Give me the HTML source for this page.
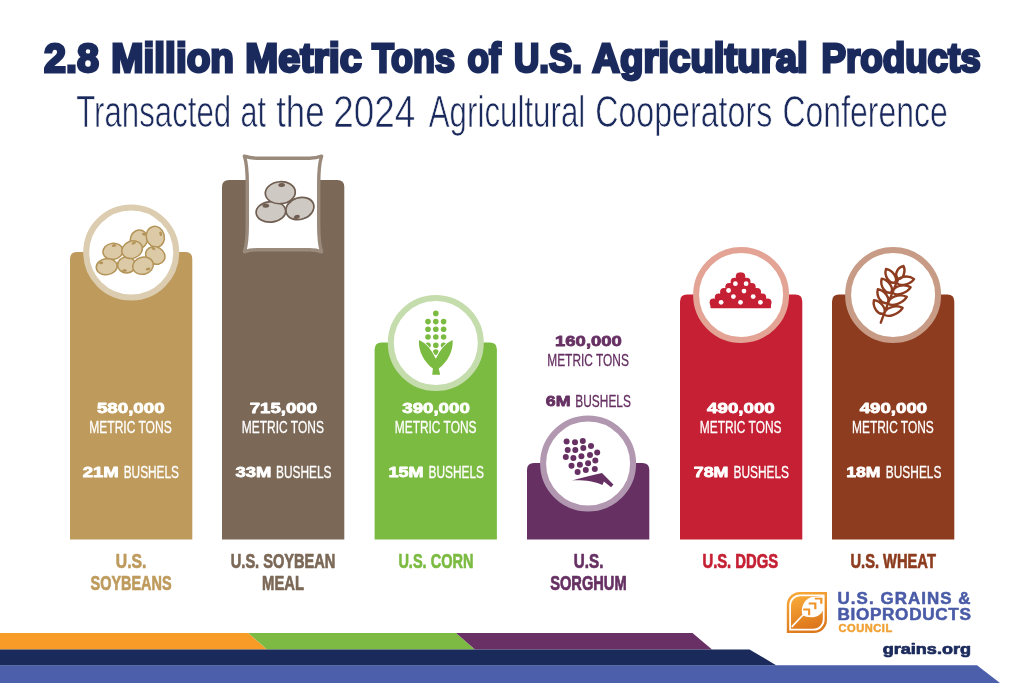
<!DOCTYPE html>
<html lang="en"><head><meta charset="utf-8"><title>2.8 Million Metric Tons of U.S. Agricultural Products</title>
<style>
html,body{margin:0;padding:0;background:#fff;}
body{width:1024px;height:683px;overflow:hidden;}
svg{display:block;font-family:"Liberation Sans",sans-serif;}
</style></head><body>
<svg width="1024" height="683" viewBox="0 0 1024 683">
<rect width="1024" height="683" fill="#fff"/>
<text transform="translate(43.99,72.40) scale(0.9762,1)" font-size="40.41" fill="#1b2a5c" font-weight="bold" stroke="#1b2a5c" stroke-width="2.8" stroke-linejoin="miter">2.8</text>
<text transform="translate(111.32,72.40) scale(0.9591,1)" font-size="40.41" fill="#1b2a5c" font-weight="bold" stroke="#1b2a5c" stroke-width="2.8" stroke-linejoin="miter">Million</text>
<text transform="translate(245.30,72.40) scale(0.9791,1)" font-size="40.41" fill="#1b2a5c" font-weight="bold" stroke="#1b2a5c" stroke-width="2.8" stroke-linejoin="miter">Metric</text>
<text transform="translate(371.88,72.40) scale(0.8874,1)" font-size="40.41" fill="#1b2a5c" font-weight="bold" stroke="#1b2a5c" stroke-width="2.8" stroke-linejoin="miter">Tons</text>
<text transform="translate(467.61,72.40) scale(0.8687,1)" font-size="40.41" fill="#1b2a5c" font-weight="bold" stroke="#1b2a5c" stroke-width="2.8" stroke-linejoin="miter">of</text>
<text transform="translate(513.91,72.40) scale(0.8668,1)" font-size="40.41" fill="#1b2a5c" font-weight="bold" stroke="#1b2a5c" stroke-width="2.8" stroke-linejoin="miter">U.S.</text>
<text transform="translate(592.37,72.40) scale(0.9497,1)" font-size="40.41" fill="#1b2a5c" font-weight="bold" stroke="#1b2a5c" stroke-width="2.8" stroke-linejoin="miter">Agricultural</text>
<text transform="translate(821.38,72.40) scale(0.9106,1)" font-size="40.41" fill="#1b2a5c" font-weight="bold" stroke="#1b2a5c" stroke-width="2.8" stroke-linejoin="miter">Products</text>
<text transform="translate(76.13,126.85) scale(0.7003,1)" font-size="44.62" fill="#1b2a5c" stroke="#fff" stroke-width="0.7" stroke-linejoin="round">Transacted</text>
<text transform="translate(240.54,126.85) scale(0.6846,1)" font-size="44.62" fill="#1b2a5c" stroke="#fff" stroke-width="0.7" stroke-linejoin="round">at</text>
<text transform="translate(276.21,126.85) scale(0.7792,1)" font-size="44.62" fill="#1b2a5c" stroke="#fff" stroke-width="0.7" stroke-linejoin="round">the</text>
<text transform="translate(333.26,126.85) scale(0.8272,1)" font-size="44.62" fill="#1b2a5c" stroke="#fff" stroke-width="0.7" stroke-linejoin="round">2024</text>
<text transform="translate(428.75,126.85) scale(0.7016,1)" font-size="44.62" fill="#1b2a5c" stroke="#fff" stroke-width="0.7" stroke-linejoin="round">Agricultural</text>
<text transform="translate(595.14,126.85) scale(0.7215,1)" font-size="44.62" fill="#1b2a5c" stroke="#fff" stroke-width="0.7" stroke-linejoin="round">Cooperators</text>
<text transform="translate(782.55,126.85) scale(0.7158,1)" font-size="44.62" fill="#1b2a5c" stroke="#fff" stroke-width="0.7" stroke-linejoin="round">Conference</text>
<path d="M70,539.6 V259 Q70,252 77,252 H185.3 Q192.3,252 192.3,259 V539.6 Z" fill="#be9b5d"/>
<circle cx="131.2" cy="252.5" r="45" fill="#fff" stroke="#dccdb0" stroke-width="6"/>
<g transform="translate(138.9,239.4) rotate(20)"><ellipse rx="8.5" ry="9.5" fill="#dccaa6" stroke="#b39357" stroke-width="1.5"/><ellipse cx="3" cy="-6.5" rx="2.08" ry="1.3" fill="#b39357"/></g><g transform="translate(155.3,236.8) rotate(-15)"><ellipse rx="9" ry="10.5" fill="#dccaa6" stroke="#b39357" stroke-width="1.5"/><ellipse cx="6" cy="-1.5" rx="1.3" ry="2.3400000000000003" fill="#b39357"/></g><g transform="translate(155.3,255.4) rotate(30)"><ellipse rx="10" ry="8.5" fill="#dccaa6" stroke="#b39357" stroke-width="1.5"/><ellipse cx="-5" cy="-5" rx="2.08" ry="1.3" fill="#b39357"/></g><g transform="translate(112.9,251.3) rotate(-8)"><ellipse rx="10" ry="8" fill="#dccaa6" stroke="#b39357" stroke-width="1.5"/><ellipse cx="2" cy="-5.5" rx="2.3400000000000003" ry="1.3" fill="#b39357"/></g><g transform="translate(126.6,265.0) rotate(0)"><ellipse rx="9" ry="8" fill="#dccaa6" stroke="#b39357" stroke-width="1.5"/><ellipse cx="-2" cy="5.5" rx="2.3400000000000003" ry="1.3" fill="#b39357"/></g><g transform="translate(106.7,266.7) rotate(-8)"><ellipse rx="10.5" ry="8" fill="#dccaa6" stroke="#b39357" stroke-width="1.5"/><ellipse cx="-5" cy="-4.5" rx="2.08" ry="1.3" fill="#b39357"/></g><g transform="translate(132.1,249.7) rotate(-22)"><ellipse rx="10.5" ry="8.5" fill="#dccaa6" stroke="#b39357" stroke-width="1.5"/><ellipse cx="4" cy="-5.5" rx="2.3400000000000003" ry="1.3" fill="#b39357"/></g><g transform="translate(143.0,265.7) rotate(-15)"><ellipse rx="10.5" ry="8.5" fill="#dccaa6" stroke="#b39357" stroke-width="1.5"/><ellipse cx="4" cy="4.5" rx="2.3400000000000003" ry="1.3" fill="#b39357"/></g>
<text transform="translate(96.94,413.20) scale(1.2632,1)" font-size="14.83" fill="#fff" font-weight="bold" stroke="#fff" stroke-width="0.8" stroke-linejoin="round">580,000</text>
<text transform="translate(89.35,432.95) scale(0.7322,1)" font-size="16.42" fill="#fff" stroke="#fff" stroke-width="0.3" stroke-linejoin="round">METRIC TONS</text>
<text transform="translate(82.75,477.00) scale(1.2500,1)" font-size="14.83" fill="#fff" font-weight="bold" stroke="#fff" stroke-width="0.8" stroke-linejoin="round">21M</text>
<text transform="translate(123.66,477.55) scale(0.7490,1)" font-size="15.84" fill="#fff" stroke="#fff" stroke-width="0.3" stroke-linejoin="round">BUSHELS</text>
<text transform="translate(115.83,567.65) scale(0.7787,1)" font-size="20.20" fill="#be9b5d" font-weight="bold" stroke="#be9b5d" stroke-width="0.7" stroke-linejoin="round">U.S.</text>
<text transform="translate(90.62,590.15) scale(0.7141,1)" font-size="20.20" fill="#be9b5d" font-weight="bold" stroke="#be9b5d" stroke-width="0.7" stroke-linejoin="round">SOYBEANS</text>
<path d="M222,539.6 V187 Q222,180 229,180 H337.3 Q344.3,180 344.3,187 V539.6 Z" fill="#7b6857"/>
<path d="M244.4,156.2 Q250,158.4 258,158.2 L308,158.2 Q316,158.4 321.6,156.2 C319.6,162 318.7,171 318.7,184 L318.7,224 C318.7,237 319.6,246 321.6,251.8 Q316,249.6 308,249.8 L258,249.8 Q250,249.6 244.4,251.8 C246.4,246 247.3,237 247.3,224 L247.3,184 C247.3,171 246.4,162 244.4,156.2 Z" fill="#fff" stroke="#9a8a7c" stroke-width="3.4" stroke-linejoin="round"/><g transform="translate(299.9,208.5) rotate(-18)"><ellipse rx="14.3" ry="10.8" fill="#cfc9c3" stroke="#6f5e51" stroke-width="1.7"/><ellipse cx="-5.5" cy="7.0" rx="3.0" ry="2.0" fill="#6f5e51"/></g><g transform="translate(270.9,211.8) rotate(-5)"><ellipse rx="14.8" ry="10.3" fill="#cfc9c3" stroke="#6f5e51" stroke-width="1.7"/><ellipse cx="-4.5" cy="-6.5" rx="3.4" ry="2.0" fill="#6f5e51"/></g><g transform="translate(280.3,192.7) rotate(-5)"><ellipse rx="15" ry="11" fill="#cfc9c3" stroke="#6f5e51" stroke-width="1.7"/><ellipse cx="2.0" cy="-7.5" rx="3.4" ry="2.0" fill="#6f5e51"/></g>
<text transform="translate(249.76,413.20) scale(1.2573,1)" font-size="14.83" fill="#fff" font-weight="bold" stroke="#fff" stroke-width="0.8" stroke-linejoin="round">715,000</text>
<text transform="translate(241.85,432.95) scale(0.7295,1)" font-size="16.42" fill="#fff" stroke="#fff" stroke-width="0.3" stroke-linejoin="round">METRIC TONS</text>
<text transform="translate(235.44,477.00) scale(1.2435,1)" font-size="14.83" fill="#fff" font-weight="bold" stroke="#fff" stroke-width="0.8" stroke-linejoin="round">33M</text>
<text transform="translate(275.96,477.55) scale(0.7504,1)" font-size="15.84" fill="#fff" stroke="#fff" stroke-width="0.3" stroke-linejoin="round">BUSHELS</text>
<text transform="translate(230.78,567.65) scale(0.7234,1)" font-size="20.20" fill="#7b6857" font-weight="bold" stroke="#7b6857" stroke-width="0.7" stroke-linejoin="round">U.S. SOYBEAN</text>
<text transform="translate(262.09,590.15) scale(0.7327,1)" font-size="20.20" fill="#7b6857" font-weight="bold" stroke="#7b6857" stroke-width="0.7" stroke-linejoin="round">MEAL</text>
<path d="M374.6,539.6 V349.5 Q374.6,342.5 381.6,342.5 H489.90000000000003 Q496.90000000000003,342.5 496.90000000000003,349.5 V539.6 Z" fill="#7cbb42"/>
<circle cx="435.8" cy="343.0" r="45" fill="#fff" stroke="#c5dcad" stroke-width="6"/>
<circle cx="435.8" cy="313.4" r="2.8" fill="#7cbb42"/><circle cx="428.0" cy="321.6" r="2.8" fill="#7cbb42"/><circle cx="435.8" cy="321.6" r="2.8" fill="#7cbb42"/><circle cx="443.6" cy="321.6" r="2.8" fill="#7cbb42"/><circle cx="428.0" cy="329.2" r="2.8" fill="#7cbb42"/><circle cx="435.8" cy="329.2" r="2.8" fill="#7cbb42"/><circle cx="443.6" cy="329.2" r="2.8" fill="#7cbb42"/><circle cx="428.0" cy="337.0" r="2.8" fill="#7cbb42"/><circle cx="435.8" cy="337.0" r="2.8" fill="#7cbb42"/><circle cx="443.6" cy="337.0" r="2.8" fill="#7cbb42"/><circle cx="428.0" cy="345.2" r="2.8" fill="#7cbb42"/><circle cx="435.8" cy="345.2" r="2.8" fill="#7cbb42"/><circle cx="443.6" cy="345.2" r="2.8" fill="#7cbb42"/><circle cx="435.8" cy="352.1" r="2.8" fill="#7cbb42"/><path d="M419.0,339.8 L435.8,358.9 L453.2,339.8 L453.2,370.2 L419.0,370.2 Z" fill="#fff" opacity="0"/><path d="M419.0,340.0 C418.0,350.6 424.0,361.9 432.9,368.6 L432.2,374.7 L440.2,374.7 L438.7,368.6 C447.6,361.9 453.6,350.6 452.6,340.0 Q442.6,344.3 435.8,358.7 Q429.0,344.3 419.0,340.0 Z" fill="#7cbb42" stroke="#fff" stroke-width="1.6" paint-order="stroke" stroke-linejoin="miter"/>
<text transform="translate(402.24,413.20) scale(1.2614,1)" font-size="14.83" fill="#fff" font-weight="bold" stroke="#fff" stroke-width="0.8" stroke-linejoin="round">390,000</text>
<text transform="translate(394.75,432.95) scale(0.7268,1)" font-size="16.42" fill="#fff" stroke="#fff" stroke-width="0.3" stroke-linejoin="round">METRIC TONS</text>
<text transform="translate(388.40,477.00) scale(1.2162,1)" font-size="14.83" fill="#fff" font-weight="bold" stroke="#fff" stroke-width="0.8" stroke-linejoin="round">15M</text>
<text transform="translate(428.46,477.55) scale(0.7504,1)" font-size="15.84" fill="#fff" stroke="#fff" stroke-width="0.3" stroke-linejoin="round">BUSHELS</text>
<text transform="translate(398.38,567.65) scale(0.7198,1)" font-size="20.20" fill="#7cbb42" font-weight="bold" stroke="#7cbb42" stroke-width="0.7" stroke-linejoin="round">U.S. CORN</text>
<path d="M527,539.6 V470 Q527,463 534,463 H642.3 Q649.3,463 649.3,470 V539.6 Z" fill="#663063"/>
<circle cx="588.1" cy="463.5" r="45" fill="#fff" stroke="#b297b1" stroke-width="6"/>
<circle cx="566.6" cy="441.5" r="3.0" fill="#663063"/><circle cx="575.0" cy="442.3" r="3.0" fill="#663063"/><circle cx="582.8" cy="441.0" r="3.0" fill="#663063"/><circle cx="567.7" cy="449.9" r="3.0" fill="#663063"/><circle cx="575.3" cy="449.9" r="3.0" fill="#663063"/><circle cx="583.3" cy="448.0" r="3.0" fill="#663063"/><circle cx="591.0" cy="446.1" r="3.0" fill="#663063"/><circle cx="565.8" cy="457.1" r="3.0" fill="#663063"/><circle cx="573.4" cy="458.1" r="3.0" fill="#663063"/><circle cx="581.4" cy="456.2" r="3.0" fill="#663063"/><circle cx="590.0" cy="454.9" r="3.0" fill="#663063"/><circle cx="597.2" cy="452.4" r="3.0" fill="#663063"/><circle cx="571.5" cy="465.7" r="3.0" fill="#663063"/><circle cx="579.9" cy="464.8" r="3.0" fill="#663063"/><circle cx="588.1" cy="463.2" r="3.0" fill="#663063"/><circle cx="595.3" cy="460.6" r="3.0" fill="#663063"/><circle cx="577.6" cy="472.0" r="3.0" fill="#663063"/><circle cx="585.8" cy="470.1" r="3.0" fill="#663063"/><circle cx="594.8" cy="469.0" r="3.0" fill="#663063"/><path d="M571.9,480.4 C583.3,477.1 593.8,475.2 602.0,473.0 L613.4,484.4 L611.1,487.2 L603.9,481.5 L602.4,485.1 C593.8,481.0 583.3,480.0 571.9,480.4 Z" fill="#663063"/>
<text transform="translate(555.09,346.00) scale(1.2454,1)" font-size="14.83" fill="#663063" font-weight="bold" stroke="#663063" stroke-width="0.8" stroke-linejoin="round">160,000</text>
<text transform="translate(547.26,365.75) scale(0.7259,1)" font-size="16.42" fill="#663063" stroke="#663063" stroke-width="0.3" stroke-linejoin="round">METRIC TONS</text>
<text transform="translate(545.76,406.40) scale(1.1989,1)" font-size="14.83" fill="#663063" font-weight="bold" stroke="#663063" stroke-width="0.8" stroke-linejoin="round">6M</text>
<text transform="translate(575.36,406.95) scale(0.7504,1)" font-size="15.84" fill="#663063" stroke="#663063" stroke-width="0.3" stroke-linejoin="round">BUSHELS</text>
<text transform="translate(573.85,567.65) scale(0.7519,1)" font-size="20.20" fill="#663063" font-weight="bold" stroke="#663063" stroke-width="0.7" stroke-linejoin="round">U.S.</text>
<text transform="translate(550.21,590.15) scale(0.7252,1)" font-size="20.20" fill="#663063" font-weight="bold" stroke="#663063" stroke-width="0.7" stroke-linejoin="round">SORGHUM</text>
<path d="M680,539.6 V301.5 Q680,294.5 687,294.5 H795.3 Q802.3,294.5 802.3,301.5 V539.6 Z" fill="#c52033"/>
<circle cx="741.1" cy="295.0" r="45" fill="#fff" stroke="#e3a496" stroke-width="6"/>
<path d="M740.5,274.1 L770.2,303.8 L770.2,307.5 L711.2,307.5 L711.2,303.8 Z" fill="#c52033" stroke="#c52033" stroke-width="1.5" stroke-linejoin="round"/><circle cx="739.7" cy="276.3" r="3.9" fill="#c52033"/><circle cx="741.4" cy="276.3" r="3.9" fill="#c52033"/><circle cx="734.5" cy="281.6" r="3.9" fill="#c52033"/><circle cx="746.6" cy="281.6" r="3.9" fill="#c52033"/><circle cx="729.2" cy="286.8" r="3.9" fill="#c52033"/><circle cx="751.8" cy="286.8" r="3.9" fill="#c52033"/><circle cx="724.0" cy="292.0" r="3.9" fill="#c52033"/><circle cx="757.1" cy="292.0" r="3.9" fill="#c52033"/><circle cx="718.7" cy="297.3" r="3.9" fill="#c52033"/><circle cx="762.3" cy="297.3" r="3.9" fill="#c52033"/><circle cx="713.5" cy="302.5" r="3.9" fill="#c52033"/><circle cx="767.6" cy="302.5" r="3.9" fill="#c52033"/><circle cx="735.4" cy="283.7" r="2.4" fill="#fff"/><circle cx="746.1" cy="283.7" r="2.4" fill="#fff"/><circle cx="728.6" cy="290.5" r="2.4" fill="#fff"/><circle cx="744.0" cy="291.1" r="2.4" fill="#fff"/><circle cx="733.4" cy="296.6" r="2.4" fill="#fff"/><circle cx="753.2" cy="296.6" r="2.4" fill="#fff"/><circle cx="721.1" cy="302.3" r="2.4" fill="#fff"/><circle cx="740.5" cy="302.3" r="2.4" fill="#fff"/><circle cx="760.4" cy="302.3" r="2.4" fill="#fff"/>
<text transform="translate(707.12,413.20) scale(1.2635,1)" font-size="14.83" fill="#fff" font-weight="bold" stroke="#fff" stroke-width="0.8" stroke-linejoin="round">490,000</text>
<text transform="translate(699.75,432.95) scale(0.7268,1)" font-size="16.42" fill="#fff" stroke="#fff" stroke-width="0.3" stroke-linejoin="round">METRIC TONS</text>
<text transform="translate(693.77,477.00) scale(1.2033,1)" font-size="14.83" fill="#fff" font-weight="bold" stroke="#fff" stroke-width="0.8" stroke-linejoin="round">78M</text>
<text transform="translate(733.46,477.55) scale(0.7504,1)" font-size="15.84" fill="#fff" stroke="#fff" stroke-width="0.3" stroke-linejoin="round">BUSHELS</text>
<text transform="translate(702.47,567.65) scale(0.7322,1)" font-size="20.20" fill="#c52033" font-weight="bold" stroke="#c52033" stroke-width="0.7" stroke-linejoin="round">U.S. DDGS</text>
<path d="M832,539.6 V301.5 Q832,294.5 839,294.5 H947.3 Q954.3,294.5 954.3,301.5 V539.6 Z" fill="#8d3c1f"/>
<circle cx="893.1" cy="295.0" r="45" fill="#fff" stroke="#c79b85" stroke-width="6"/>
<path d="M884.0,313.5 C886.9,308.9 880.8,300.9 874.0,300.1 C872.3,307.2 878.0,315.4 884.0,313.5 ZM887.6,303.0 C890.6,298.3 884.5,290.2 877.8,289.2 C876.0,296.3 881.6,304.8 887.6,303.0 ZM891.1,292.5 C894.2,287.9 888.3,279.7 881.7,278.6 C879.7,285.7 885.1,294.2 891.1,292.5 ZM895.1,282.5 C898.3,278.0 892.6,270.1 886.0,269.0 C883.9,276.0 889.1,284.2 895.1,282.5 ZM884.2,314.5 C888.0,318.1 899.0,313.9 902.7,307.9 C895.6,304.2 884.4,307.8 884.2,314.5 ZM888.3,303.6 C892.1,307.2 903.2,303.0 906.8,296.9 C899.6,293.2 888.4,296.9 888.3,303.6 ZM892.8,292.7 C896.3,296.5 906.9,293.1 910.6,287.3 C903.9,283.1 893.1,286.1 892.8,292.7 ZM896.9,282.9 C899.9,287.0 910.2,284.5 914.1,279.1 C908.0,274.4 897.6,276.3 896.9,282.9 ZM898.6,279.0 C903.3,279.0 906.1,271.1 903.5,266.0 C896.9,267.6 893.7,275.3 898.6,279.0 ZM880.8,322.7 Q885.2,310.0 896.3,283.1" fill="none" stroke="#8d3c1f" stroke-width="2.4" stroke-linecap="round" stroke-linejoin="round"/>
<text transform="translate(859.72,413.20) scale(1.2579,1)" font-size="14.83" fill="#fff" font-weight="bold" stroke="#fff" stroke-width="0.8" stroke-linejoin="round">490,000</text>
<text transform="translate(852.05,432.95) scale(0.7268,1)" font-size="16.42" fill="#fff" stroke="#fff" stroke-width="0.3" stroke-linejoin="round">METRIC TONS</text>
<text transform="translate(846.22,477.00) scale(1.1873,1)" font-size="14.83" fill="#fff" font-weight="bold" stroke="#fff" stroke-width="0.8" stroke-linejoin="round">18M</text>
<text transform="translate(885.86,477.55) scale(0.7504,1)" font-size="15.84" fill="#fff" stroke="#fff" stroke-width="0.3" stroke-linejoin="round">BUSHELS</text>
<text transform="translate(850.47,567.65) scale(0.7271,1)" font-size="20.20" fill="#8d3c1f" font-weight="bold" stroke="#8d3c1f" stroke-width="0.7" stroke-linejoin="round">U.S. WHEAT</text>
<polygon points="0,633 248.4,633 267,649.6 0,649.6" fill="#f89c27"/>
<polygon points="248.4,633 456,633 475,649.6 267,649.6" fill="#7dba43"/>
<polygon points="456,633 692.5,633 712,649.6 475,649.6" fill="#693066"/>
<polygon points="0,649.4 749.5,649.4 776.5,665.4 0,665.4" fill="#1a2a5b"/>
<polygon points="0,665.2 977,665.2 1000,683 0,683" fill="#4b5fab"/>
<text transform="translate(837.55,603.65) scale(1.0582,1)" font-size="15.99" fill="#4a5ba7" font-weight="bold" letter-spacing="1.00" stroke="#4a5ba7" stroke-width="0.5" stroke-linejoin="round">U.S. GRAINS &amp;</text>
<text transform="translate(837.45,619.65) scale(1.0758,1)" font-size="15.99" fill="#4a5ba7" font-weight="bold" letter-spacing="0.60" stroke="#4a5ba7" stroke-width="0.5" stroke-linejoin="round">BIOPRODUCTS</text>
<text transform="translate(838.56,632.35) scale(1.0202,1)" font-size="10.90" fill="#f0a236" font-weight="bold" letter-spacing="0.50" stroke="#f0a236" stroke-width="0.5" stroke-linejoin="round">COUNCIL</text>
<text transform="translate(882.82,653.55) scale(1.2537,1)" font-size="14.39" fill="#1b2a5c" font-weight="bold" stroke="#1b2a5c" stroke-width="0.7" stroke-linejoin="round">grains.org</text>
<defs><linearGradient id="lg" x1="0.2" y1="0" x2="0.5" y2="1"><stop offset="0" stop-color="#f8a938"/><stop offset="1" stop-color="#dd771c"/></linearGradient></defs><path d="M799.8,592.0 H827.0 V620.0 A13,13 0 0 1 814.0,633.0 H786.8 V605.0 A13,13 0 0 1 799.8,592.0 Z" fill="url(#lg)"/><path d="M800.2,594.4 H824.6 V619.6 A11,11 0 0 1 813.6,630.6 H789.2 V605.4 A11,11 0 0 1 800.2,594.4 Z" fill="#fff"/><path d="M800.2,596.2 H822.8 V619.6 A9.2,9.2 0 0 1 813.6,628.8 H791.0 V605.4 A9.2,9.2 0 0 1 800.2,596.2 Z" fill="url(#lg)"/><path d="M802.7,615.2 C800.3,610.0 802.5,600.1 811.3,596.9 L823.4,595.9 L823.4,609.2 C821.9,614.4 816.4,617.4 811.3,617.3 C807.6,617.1 804.7,616.4 802.7,615.2 Z" fill="#fff"/><line x1="803.2" y1="614.7" x2="791.7" y2="626.9" stroke="#fff" stroke-width="1.6"/><path d="M814.8,597.7 H822.4 V603.7 H820.2 V599.6 H814.8 Z" fill="#ef9428"/><path d="M808.7,602.6 H816.4 V609.2 H814.2 V604.5 H808.7 Z" fill="#ef9428"/><path d="M803.2,608.6 H810.2 V615.2 H808.1 V610.4 H803.2 Z" fill="#ef9428"/>
</svg>
</body></html>
